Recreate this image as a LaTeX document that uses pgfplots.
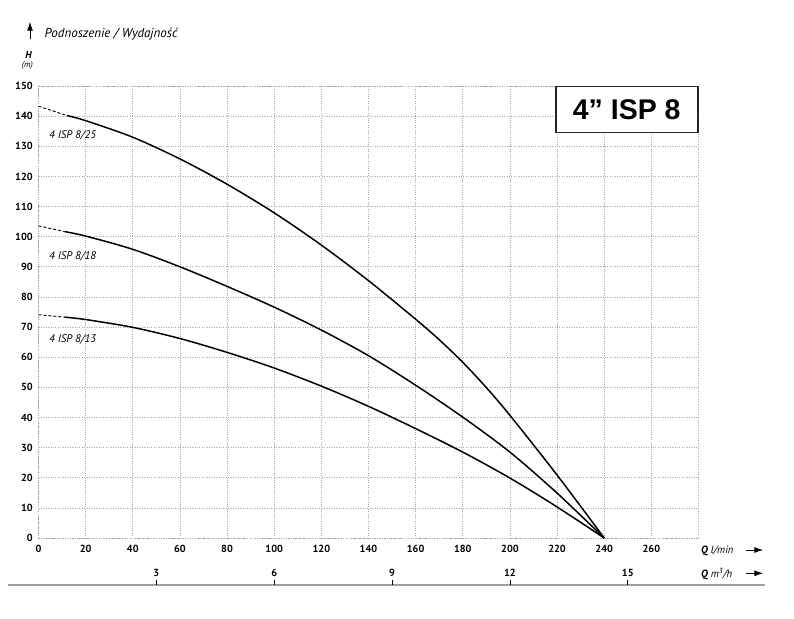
\documentclass[border=0pt]{standalone}
\usepackage{pgfplots}
\pgfplotsset{compat=1.18}
\usepackage{pgfplotstable}
\usepackage{fontspec}
\setmainfont{PT Sans}
\newfontfamily\titlefont{Liberation Sans}
\usetikzlibrary{arrows.meta}

\pgfplotstableread{
x y
12 140.2
20 138.5
40 133.0
60 125.8
80 117.4
100 107.9
120 97.2
140 85.4
160 72.6
170 65.8
180 58.3
190 49.9
200 40.7
220 20.9
240 0
}\curveA
\pgfplotstableread{
x y
0 143.3
12 140.2
}\dashA
\pgfplotstableread{
x y
11 101.7
20 100.2
40 95.8
60 90.0
80 83.5
100 76.6
120 69.0
140 60.5
160 50.7
180 40.1
200 28.5
220 14.9
240 0
}\curveB
\pgfplotstableread{
x y
0 103.6
11 101.7
}\dashB
\pgfplotstableread{
x y
11 73.3
20 72.5
40 69.9
60 66.2
80 61.6
100 56.4
120 50.4
140 43.7
160 36.3
180 28.5
200 19.9
220 10.3
240 0
}\curveC
\pgfplotstableread{
x y
0 74.1
11 73.3
}\dashC

\begin{document}
\begin{tikzpicture}
\useasboundingbox (0pt,0pt) rectangle (794pt,618pt);
\begin{axis}[
  at={(38.5pt,80pt)}, anchor=south west, scale only axis,
  width=660pt, height=452pt,
  xmin=0, xmax=280, ymin=0, ymax=150,
  xtick={0,20,...,260}, ytick={0,10,...,150},
  grid=major, grid style={gray!70, dotted, line width=0.6pt},
  axis line style={gray!70, dotted, line width=0.6pt},
  major tick length=0pt,
  tick label style={font=\bfseries\fontsize{10.3}{10.3}\selectfont},
  /pgf/number format/assume math mode=true,
  xticklabel style={yshift=-3.2pt},
  yticklabel style={xshift=-2.2pt},
  clip=false,
]
\addplot[black, line width=1.5pt, smooth] table {\curveA};
\addplot[black, line width=0.9pt, dash pattern=on 3pt off 2pt] table {\dashA};
\addplot[black, line width=1.5pt, smooth] table {\curveB};
\addplot[black, line width=0.9pt, dash pattern=on 3pt off 2pt] table {\dashB};
\addplot[black, line width=1.5pt, smooth] table {\curveC};
\addplot[black, line width=0.9pt, dash pattern=on 3pt off 2pt] table {\dashC};
\node[anchor=west, inner sep=0, font=\itshape\fontsize{11}{11}\selectfont] at (axis cs:4.45,133.5) {4 ISP 8/25};
\node[anchor=west, inner sep=0, font=\itshape\fontsize{11}{11}\selectfont] at (axis cs:4.45,93.6) {4 ISP 8/18};
\node[anchor=west, inner sep=0, font=\itshape\fontsize{11}{11}\selectfont] at (axis cs:4.45,65.9) {4 ISP 8/13};
\node[draw=black!85, line width=1.5pt, fill=white, minimum width=142pt, minimum height=46pt, anchor=north east, inner sep=0pt, font=\titlefont\bfseries\fontsize{28.5}{29}\selectfont] at (rel axis cs:1,1) {4” ISP 8};
\end{axis}
\draw[line width=2pt, gray!75] (8pt,33pt) -- (765pt,33pt);
\begin{axis}[
  at={(38.5pt,23pt)}, anchor=south west, scale only axis,
  width=660pt, height=10pt,
  xmin=0, xmax=16.8, ymin=0, ymax=1,
  axis y line=none, ytick=\empty,
  axis x line*=top, axis line style={draw=none},
  xtick={3,6,9,12,15}, xticklabel pos=upper,
  tick align=outside, major tick length=5pt,
  tick style={black, line width=0.8pt},
  tick label style={font=\bfseries\fontsize{10.3}{10.3}\selectfont},
  /pgf/number format/assume math mode=true,
]
\end{axis}
\draw[-{Latex[length=9pt,width=6pt]}, line width=0.9pt] (30pt,578.7pt) -- (30pt,596.3pt);
\node[anchor=base west, inner sep=0, font=\itshape\fontsize{13}{13}\selectfont] at (44.3pt,580.7pt) {Podnoszenie / Wydajność};
\node[anchor=base, inner sep=0, font=\bfseries\itshape\fontsize{10}{10}\selectfont] at (28.5pt,559.7pt) {H};
\node[anchor=base, inner sep=0, font=\itshape\fontsize{8.5}{8.5}\selectfont] at (27.3pt,550pt) {(m)};
\node[anchor=base west, inner sep=0, font=\fontsize{10.5}{10.5}\selectfont] at (701pt,64.7pt) {\textbf{\textit{Q}} \textit{l/min}};
\node[anchor=base west, inner sep=0, font=\fontsize{10.5}{10.5}\selectfont] at (701pt,40.7pt) {\textbf{\textit{Q}} \textit{m\textsuperscript{3}/h}};
\draw[-{Latex[length=9pt,width=6pt]}, line width=0.9pt] (745.7pt,68pt) -- (763.3pt,68pt);
\draw[-{Latex[length=9pt,width=6pt]}, line width=0.9pt] (745.7pt,44.7pt) -- (763.3pt,44.7pt);
\end{tikzpicture}
\end{document}
